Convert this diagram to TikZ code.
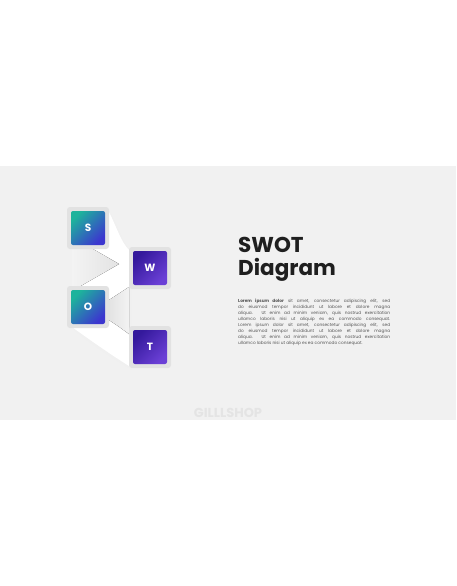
\documentclass[tikz,border=0pt]{standalone}
\usepackage{fontspec}
\setmainfont{Poppins}
\usetikzlibrary{shadings}
\definecolor{panel}{HTML}{F1F1F1}
\definecolor{frame}{HTML}{E2E2E2}
\definecolor{tealA}{HTML}{1DB39C}
\definecolor{blueA}{HTML}{3C36CF}
\definecolor{indA}{HTML}{34199C}
\definecolor{purA}{HTML}{6B40D6}
\definecolor{foldA}{HTML}{E3E3E3}
\definecolor{foldB}{HTML}{F3F3F3}
\definecolor{bodytext}{HTML}{555555}
\definecolor{titletext}{HTML}{1F1F1F}
\definecolor{wmark}{HTML}{E4E4E4}
\tikzset{
  outerbox/.style={fill=frame, rounded corners=3pt, minimum width=42pt, minimum height=42pt, inner sep=0pt},
  tealtile/.style={rounded corners=2pt, minimum width=34pt, minimum height=34pt, inner sep=0pt,
     top color=tealA, bottom color=blueA, shading angle=45, text=white, font=\bfseries\fontsize{10.5}{10.5}\selectfont},
  purtile/.style={rounded corners=2pt, minimum width=34pt, minimum height=34pt, inner sep=0pt,
     top color=indA, bottom color=purA, shading angle=45, text=white, font=\bfseries\fontsize{10.5}{10.5}\selectfont},
  ribbon/.style={fill=white},
  fold/.style={left color=foldB, right color=foldA},
}
\begin{document}
\begin{tikzpicture}[x=1pt,y=-1pt]
\useasboundingbox (0,0) rectangle (456,586);
\fill[white] (0,0) rectangle (456,586);
\fill[panel] (0,166) rectangle (456,420);
% soft shadow of the ribbon
\fill[black!6] (74,214) -- (111,214) .. controls (119,230) and (123,244) .. (131,252)
   -- (131,369) .. controls (110,357) and (90,343) .. (74,330) -- cycle;
% ribbon envelope
\fill[ribbon] (72,212) -- (109,212) .. controls (117,228) and (121,242) .. (129,250)
   -- (129,366) .. controls (110,354) and (90,340) .. (72,327) -- cycle;
% folds
\fill[fold] (72,237) -- (119,264) -- (72,291) -- cycle;
\fill[left color=foldA, right color=foldB] (129,287) -- (109,300) -- (109,320) .. controls (118,326) .. (129,334) -- cycle;
% boxes
\node[outerbox] (sbox) at (88,228) {};
\node[outerbox] (wbox) at (150,268) {};
\node[outerbox] (obox) at (88,307) {};
\node[outerbox] (tbox) at (150,347) {};
\node[tealtile] (s) at (sbox) {S};
\node[purtile] (w) at (wbox) {W};
\node[tealtile] (o) at (obox) {O};
\node[purtile] (t) at (tbox) {T};
% title
\node[anchor=base west, inner sep=0pt, text=titletext, font=\bfseries\fontsize{21.5}{21.5}\selectfont] (title1) at (238,252) {SWOT};
\node[anchor=base west, inner sep=0pt, text=titletext, font=\bfseries\fontsize{21.5}{21.5}\selectfont] (title2) at (238,275) {Diagram};
% body
\node[anchor=north west, inner sep=0pt, text width=152pt, align=justify, text=bodytext,
      font=\fontsize{4.3}{6}\selectfont] (body) at (238,299) {%
\textbf{Lorem ipsum dolor} sit amet, consectetur adipiscing elit, sed\linebreak
do eiusmod tempor incididunt ut labore et dolore magna\linebreak
aliqua. Ut enim ad minim veniam, quis nostrud exercitation\linebreak
ullamco laboris nisi ut aliquip ex ea commodo consequat.\linebreak
Lorem ipsum dolor sit amet, consectetur adipiscing elit, sed\linebreak
do eiusmod tempor incididunt ut labore et dolore magna\linebreak
aliqua. Ut enim ad minim veniam, quis nostrud exercitation\linebreak
ullamco laboris nisi ut aliquip ex ea commodo consequat.};
% watermark
\node[inner sep=0pt, text=wmark, font=\bfseries\fontsize{13}{13}\selectfont] (wm) at (228,413) {GILLLSHOP};
\end{tikzpicture}
\end{document}
